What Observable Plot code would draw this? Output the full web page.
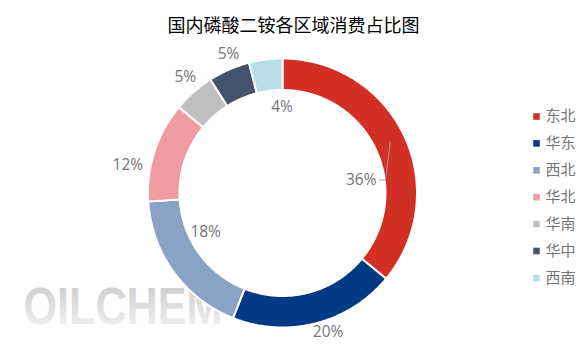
<!DOCTYPE html>
<html><head><meta charset="utf-8">
<script src="https://cdn.jsdelivr.net/npm/d3@7"></script>
<script src="https://cdn.jsdelivr.net/npm/@observablehq/plot@0.6"></script>
<style>body{margin:0;background:#fff} svg{display:block}</style>
</head><body><div id="chart"></div>
<script>
// ---- data ----
const title = "国内磷酸二铵各区域消费占比图";
const regions = ["东北", "华东", "西北", "华北", "华南", "华中", "西南"];
const shares = [36, 20, 18, 12, 5, 5, 4];
const colors = ["#d22f25", "#013a84", "#8aa2c6", "#f09aa2", "#bfbfbf", "#44546a", "#b7dee8"];
const watermark = "OILCHEM";

// ---- layout ----
const W = 587, H = 354, cx = 282, cy = 192.5, R = 134.5, r0 = 103;
const labelLayout = [
  {r: 119, dx: -13.7, dy: 37.7, anchor: "end", leader: true},
  {r: 143, dx: 10, dy: 1},
  {r: 95, dx: 0, dy: -17},
  {r: 150, dx: -12, dy: 18},
  {r: 150, dx: 2, dy: -3.5},
  {r: 150, dx: 5.6, dy: -1},
  {r: 88, dx: 10.5, dy: 1}
];
const legendX = 536, legendY0 = 116, legendStep = 26.9;
const font = "'Open Sans','Noto Sans CJK SC',sans-serif";
const labelColor = "#757575";

const total = d3.sum(shares);
let acc = 0;
const slices = regions.map((name, i) => {
  const a0 = acc / total * 2 * Math.PI; acc += shares[i];
  const a1 = acc / total * 2 * Math.PI;
  return {name, value: shares[i], a0, a1, mid: (a0 + a1) / 2, L: labelLayout[i]};
});
const pt = (a, r) => [cx + r * Math.sin(a), cy - r * Math.cos(a)];

const ringPts = slices.flatMap(s => {
  const n = Math.max(2, Math.ceil((s.a1 - s.a0) / 0.01));
  const pts = [];
  for (let k = 0; k <= n; k++) pts.push(pt(s.a0 + (s.a1 - s.a0) * k / n, R));
  for (let k = n; k >= 0; k--) pts.push(pt(s.a0 + (s.a1 - s.a0) * k / n, r0));
  pts.push(pts[0]);
  return pts.map(([x, y]) => ({x, y, name: s.name}));
});

const labels = slices.map(s => {
  const [x, y] = pt(s.mid, s.L.r);
  return {x: x + s.L.dx, y: y + s.L.dy, text: s.value + "%", anchor: s.L.anchor || "middle", s};
});
const leaders = labels.filter(l => l.s.L.leader).flatMap((l, j) => {
  const [ax, ay] = pt(l.s.mid, l.s.L.r);
  return [{x: ax, y: ay, k: j}, {x: ax - 4.7, y: l.y, k: j}, {x: l.x + 3, y: l.y, k: j}];
});

const chart = Plot.plot({
  width: W, height: H,
  margin: 0,
  x: {domain: [0, W], range: [0, W], axis: null},
  y: {domain: [0, H], range: [0, H], axis: null},
  color: {domain: regions, range: colors},
  style: {fontFamily: font, background: "#fff"},
  marks: [
    Plot.text([watermark], {x: () => 23, y: () => 307, text: d => d, textAnchor: "start",
      fontSize: 52, fontWeight: "bold", fill: "#d0d0d0", fontFamily: "'Liberation Sans',sans-serif"}),
    Plot.line(ringPts, {x: "x", y: "y", z: "name", fill: "name", stroke: "#fff", strokeWidth: 2, strokeLinejoin: "round", curve: "linear"}),
    Plot.line(leaders, {x: "x", y: "y", z: "k", stroke: "#9a9a9a", strokeWidth: 1}),
    Plot.text(labels.filter(d => d.anchor === "middle"), {x: "x", y: "y", text: "text", textAnchor: "middle", fontSize: 15.5, fill: labelColor}),
    Plot.text(labels.filter(d => d.anchor === "end"), {x: "x", y: "y", text: "text", textAnchor: "end", fontSize: 15.5, fill: labelColor}),
    Plot.text([title], {x: () => 293, y: () => 26, text: d => d, fontSize: 18, fill: "#000",
      fontFamily: "'Noto Sans CJK SC',sans-serif"}),
    Plot.dot(regions, {x: () => legendX, y: (d, i) => legendY0 + i * legendStep, symbol: "square", r: 3.7, fill: d => d}),
    Plot.text(regions, {x: () => legendX + 9, y: (d, i) => legendY0 + i * legendStep, text: d => d,
      textAnchor: "start", fontSize: 15, fill: labelColor, fontFamily: "'Noto Sans CJK SC',sans-serif"})
  ]
});

// watermark gradient
const ns = "http://www.w3.org/2000/svg";
const defs = document.createElementNS(ns, "defs");
defs.innerHTML = '<linearGradient id="wmg" x1="0" y1="0" x2="0" y2="1"><stop offset="0" stop-color="#c8c8c8"/><stop offset="1" stop-color="#f5f5f5"/></linearGradient>';
chart.insertBefore(defs, chart.firstChild);
const wm = [...chart.querySelectorAll("text")].find(t => t.textContent === watermark);
if (wm) {
  wm.setAttribute("fill", "url(#wmg)");
  wm.setAttribute("textLength", "199");
  wm.setAttribute("lengthAdjust", "spacingAndGlyphs");
}
document.getElementById("chart").appendChild(chart);
</script>
</body></html>
